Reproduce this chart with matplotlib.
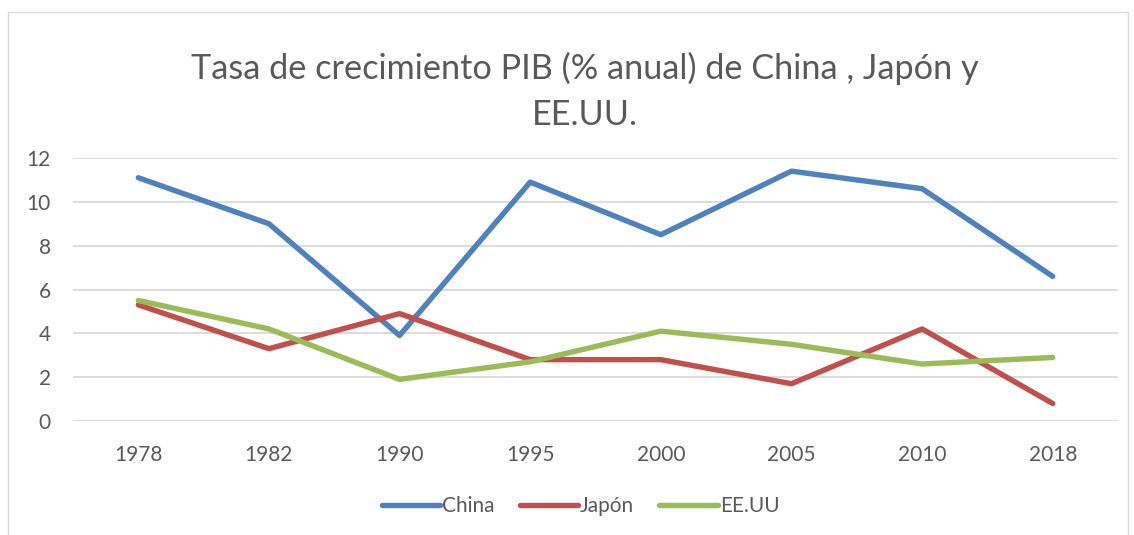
import matplotlib.pyplot as plt
from matplotlib.patches import Rectangle

# Datos
anios = ['1978', '1982', '1990', '1995', '2000', '2005', '2010', '2018']
china = [11.1, 9.0, 3.9, 10.9, 8.5, 11.4, 10.6, 6.6]
japon = [5.3, 3.3, 4.9, 2.8, 2.8, 1.7, 4.2, 0.8]
eeuu = [5.5, 4.2, 1.9, 2.7, 4.1, 3.5, 2.6, 2.9]

texto = '#595959'
plt.rcParams['font.family'] = ['Lato', 'DejaVu Sans']

fig = plt.figure(figsize=(11.34, 5.35), dpi=100)
ax = fig.add_axes([73/1134, 1 - 421/535, 1045/1134, 263/535])

x = range(len(anios))
ax.plot(x, china, color='#4F81BD', lw=3.9, solid_capstyle='round', label='China')
ax.plot(x, japon, color='#C0504D', lw=3.9, solid_capstyle='round', label='Japón')
ax.plot(x, eeuu, color='#9BBB59', lw=3.9, solid_capstyle='round', label='EE.UU')

ax.set_xlim(-0.5, len(anios) - 0.5)
ax.set_ylim(0, 12)
ax.set_yticks(range(0, 13, 2))
ax.set_xticks(list(x))
ax.set_xticklabels(anios)
ax.grid(axis='y', color='#D9D9D9', lw=1.3)
ax.set_axisbelow(True)
for s in ax.spines.values():
    s.set_visible(False)
ax.tick_params(length=0, labelsize=15, colors=texto)
ax.tick_params(axis='x', pad=17)
ax.tick_params(axis='y', pad=16)

fig.text(0.516, 1 - 68/535, 'Tasa de crecimiento PIB (% anual) de China , Japón y',
         ha='center', va='center', fontsize=24.7, color=texto)
fig.text(0.516, 1 - 115/535, 'EE.UU.', ha='center', va='center', fontsize=24.7,
         color=texto)

fig.legend(loc='center', bbox_to_anchor=(0.512, 1 - 506/535), ncol=3, frameon=False,
           fontsize=15, labelcolor=texto, handlelength=2.8, handletextpad=0.1,
           columnspacing=1.2)

fig.patches.append(Rectangle((8/1134, -0.05), 1120/1134, 1 - 12/535 + 0.05,
                             transform=fig.transFigure, fill=False,
                             edgecolor='#D9D9D9', lw=1))

fig.savefig('out.png', dpi=100)
